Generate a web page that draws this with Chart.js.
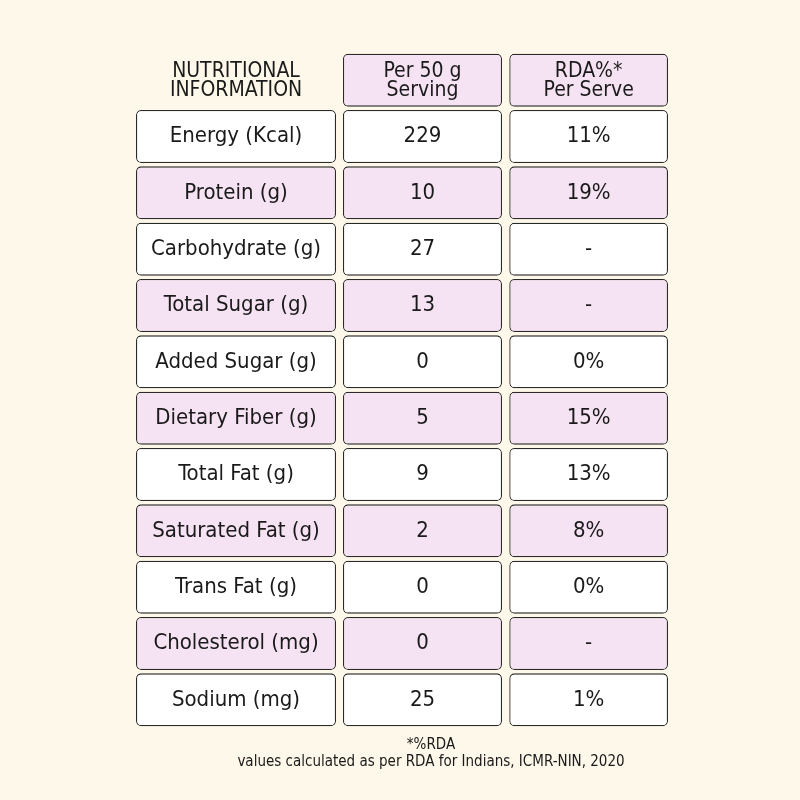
<!DOCTYPE html>
<html><head><meta charset="utf-8">
<script src="https://cdn.jsdelivr.net/npm/chart.js@4"></script>
<style>html,body{margin:0;padding:0;background:#fdf8e9}#w{width:800px;height:800px}</style>
</head><body><div id="w"><canvas id="c"></canvas></div>
<script>
const nutrients = ["Energy (Kcal)","Protein (g)","Carbohydrate (g)","Total Sugar (g)","Added Sugar (g)","Dietary Fiber (g)","Total Fat (g)","Saturated Fat (g)","Trans Fat (g)","Cholesterol (mg)","Sodium (mg)"];
const perServing = ["229","10","27","13","0","5","9","2","0","0","25"];
const rdaPercent = ["11%","19%","-","-","0%","15%","13%","8%","0%","-","1%"];
const headers = [["NUTRITIONAL","INFORMATION"],["Per 50 g","Serving"],["RDA%*","Per Serve"]];
const footnote = ["*%RDA","values calculated as per RDA for Indians, ICMR-NIN, 2020"];

const rows = ["header", ...nutrients];
const spans = [[0,1.128],[1.167,2.064],[2.105,3]];
const PINK="#f5e2f3", WHITE="#ffffff";
const rowColor = rows.map((r,i)=> i===0 ? PINK : (i%2===0 ? PINK : WHITE));
const texts = [
  [headers[0], ...nutrients.map(s=>[s])],
  [headers[1], ...perServing.map(s=>[s])],
  [headers[2], ...rdaPercent.map(s=>[s])]
];
const FONT = "'Liberation Sans Narrow','DejaVu Sans Condensed',sans-serif";
const datasets = spans.map((sp,ci)=>({
  data: rows.map((r,i)=> (ci===0 && i===0) ? null : sp),
  backgroundColor: rowColor,
  borderColor:"#2a2a2a", borderWidth:1.3, borderRadius:5, borderSkipped:false,
  categoryPercentage:1, barPercentage:0.94, grouped:false
}));
const textPlugin = {
  id:"txt",
  afterDatasetsDraw(ch){
    const {ctx, scales:{x,y}} = ch;
    ctx.save(); ctx.fillStyle="#1a1a1a"; ctx.textAlign="center"; ctx.textBaseline="middle";
    texts.forEach((col,ci)=>{
      const cx = x.getPixelForValue((spans[ci][0]+spans[ci][1])/2);
      col.forEach((lines,ri)=>{
        const cy = y.getPixelForValue(ri);
        const sz = ri===0 ? 21 : 22;
        ctx.font = `${sz}px ${FONT}`;
        const lh = 19;
        lines.forEach((t,li)=>{
          ctx.fillText(t, cx, cy + (li-(lines.length-1)/2)*lh + (ri===0?1:0));
        });
      });
    });
    ctx.font = `15px ${FONT}`;
    const fx = x.getPixelForValue(1.5)+29;
    ctx.fillText(footnote[0], fx, y.bottom+17);
    ctx.fillText(footnote[1], fx, y.bottom+34);
    ctx.restore();
  }
};
new Chart(document.getElementById("c"),{
  type:"bar",
  data:{labels:rows, datasets},
  options:{
    indexAxis:"y", responsive:true, maintainAspectRatio:false, animation:false,
    layout:{padding:{left:136,right:132,top:52,bottom:72}},
    scales:{x:{type:"linear",min:0,max:3,display:false},y:{display:false}},
    plugins:{legend:{display:false},tooltip:{enabled:false}}
  },
  plugins:[textPlugin]
});
</script></body></html>
